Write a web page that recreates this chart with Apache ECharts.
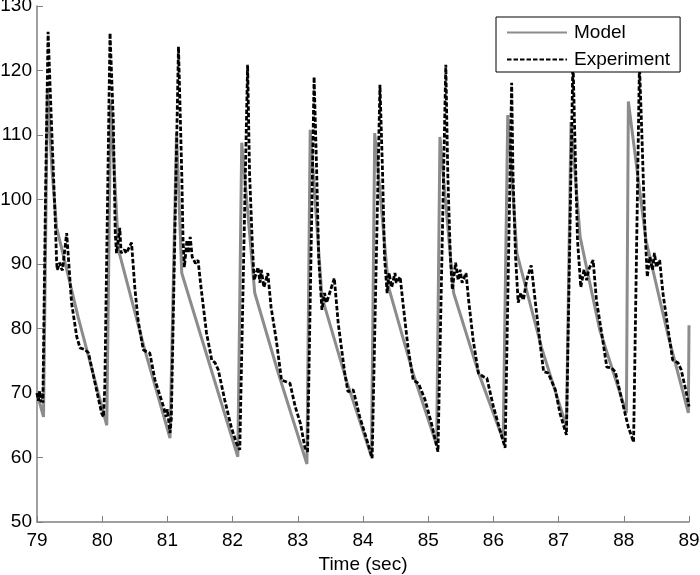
<!DOCTYPE html>
<html>
<head>
<meta charset="utf-8">
<script src="https://cdn.jsdelivr.net/npm/echarts@6/dist/echarts.min.js"></script>
<style>
html,body{margin:0;padding:0;background:#fff;}
#c{width:700px;height:575px;}
</style>
</head>
<body>
<div id="c"></div>
<script>
// Model (gray solid)
var modelT = [79.00,79.10,79.16,79.23,79.30,79.63,80.07,80.13,80.25,80.65,81.04,81.14,81.22,81.63,82.08,82.14,82.34,82.70,83.14,83.19,83.37,83.75,84.13,84.18,84.39,84.76,85.13,85.18,85.39,85.77,86.15,86.22,86.36,86.74,87.12,87.19,87.33,87.63,88.04,88.07,88.34,88.67,88.99,89.00];
var modelV = [70.0,66.3,117.3,104.6,95.7,81.8,65.0,115.0,92.2,76.8,63.0,110.3,88.6,75.0,60.1,108.8,85.5,73.1,59.0,110.8,84.9,71.8,60.1,110.3,86.5,73.3,61.9,109.7,85.5,73.2,62.7,113.1,91.7,77.0,64.8,112.0,94.2,79.8,66.9,115.2,93.7,79.3,66.9,80.5];

// Experiment (black dashed)
var expT = [79.00,79.02,79.04,79.06,79.08,79.09,79.13,79.17,79.22,79.28,79.30,79.31,79.35,79.37,79.39,79.455,79.53,79.61,79.66,79.74,79.79,79.99,80.02,80.04,80.12,
80.17,80.20,80.22,80.27,80.29,80.34,80.37,80.45,80.50,80.55,80.63,80.68,80.73,80.81,80.94,80.98,81.00,81.04,
81.06,81.17,81.22,81.24,81.26,81.30,81.32,81.35,81.38,81.43,81.47,81.52,81.60,81.68,81.73,81.78,81.88,81.98,82.06,82.11,
82.23,82.26,82.30,82.33,82.39,82.42,82.44,82.48,82.54,82.59,82.67,82.75,82.83,82.88,82.96,83.04,83.11,83.15,
83.25,83.29,83.32,83.37,83.41,83.44,83.47,83.56,83.62,83.72,83.77,83.85,83.95,84.06,84.14,
84.26,84.30,84.33,84.37,84.40,84.44,84.49,84.51,84.57,84.62,84.69,84.77,84.85,84.95,85.05,85.15,
85.27,85.30,85.34,85.37,85.42,85.46,85.49,85.52,85.58,85.62,85.69,85.77,85.85,85.90,86.00,86.10,86.18,
86.28,86.30,86.34,86.38,86.42,86.46,86.51,86.58,86.64,86.71,86.77,86.84,86.95,87.02,87.12,
87.22,87.25,87.29,87.34,87.39,87.43,87.46,87.53,87.58,87.66,87.74,87.81,87.87,87.97,88.07,88.15,
88.24,88.28,88.32,88.36,88.40,88.44,88.47,88.50,88.55,88.60,88.68,88.75,88.83,88.88,88.96,89.00];
var expV = [70.0,68.8,70.3,68.6,69.5,68.5,100.0,126.0,112.3,96.8,90.6,89.1,90.2,89.4,89.0,94.8,84.0,78.7,77.0,76.7,76.2,66.9,66.3,71.0,125.8,
112.3,94.8,91.7,95.6,91.7,92.2,91.7,93.3,86.4,81.3,76.7,76.4,76.2,72.0,67.9,66.3,67.5,63.8,
66.0,123.7,104.1,93.7,89.5,93.7,91.7,94.2,91.1,90.1,90.6,86.0,79.3,75.1,74.7,73.6,68.9,64.7,62.2,61.2,
120.9,104.1,93.7,87.5,89.5,87.1,89.1,86.4,88.6,83.3,78.2,72.0,71.7,71.5,67.9,65.3,61.5,60.9,
119.0,104.1,91.1,82.9,85.5,84.0,84.9,87.8,80.8,73.1,70.2,70.5,66.3,62.7,59.9,
117.8,104.1,91.1,85.5,88.6,86.4,88.6,87.1,88.0,83.3,77.1,72.0,71.5,69.0,65.3,60.9,
120.9,104.1,91.1,86.0,90.2,87.5,89.1,87.1,88.6,84.4,78.2,73.1,72.5,72.3,67.9,64.3,61.5,
118.1,104.1,91.1,84.0,85.5,84.4,87.5,89.8,84.4,78.2,73.3,73.1,70.5,66.9,63.5,
122.0,109.2,93.7,86.4,89.1,87.5,89.1,90.6,84.4,79.3,74.0,73.9,73.3,68.9,64.7,62.4,
121.0,109.2,96.4,88.0,91.1,89.1,91.7,89.5,90.6,85.5,79.8,75.1,74.7,73.6,70.0,67.9];

var seriesNames = ['Model', 'Experiment'];
var xTitle = 'Time (sec)';

function zip(a, b) { var r = []; for (var i = 0; i < a.length; i++) r.push([a[i], b[i]]); return r; }

var font = 'Liberation Sans, Arial, Helvetica, sans-serif';
var chart = echarts.init(document.getElementById('c'), null, {renderer: 'canvas'});
chart.setOption({
  animation: false,
  backgroundColor: '#fff',
  grid: {left: 37, right: 11, top: 6, bottom: 53, containLabel: false, outerBoundsMode: 'none'},
  legend: {
    orient: 'vertical',
    left: 496, top: 17,
    padding: [6, 10, 3, 10],
    itemWidth: 60, itemHeight: 20, itemGap: 8,
    backgroundColor: '#fff',
    borderColor: '#000', borderWidth: 1, borderRadius: 0,
    itemStyle: {opacity: 0, borderWidth: 0},
    textStyle: {fontFamily: font, fontSize: 19, color: '#000', padding: [0,0,0,2]},
    data: seriesNames
  },
  xAxis: {
    type: 'value', min: 79, max: 89, interval: 1,
    name: xTitle, nameLocation: 'middle', nameGap: 33,
    nameTextStyle: {fontFamily: font, fontSize: 19, color: '#000'},
    axisLine: {onZero: false, lineStyle: {color: '#808080', width: 1.5}},
    axisTick: {inside: true, length: 6, lineStyle: {color: '#808080', width: 1}},
    axisLabel: {fontFamily: font, fontSize: 19, color: '#000', margin: 9},
    splitLine: {show: false}
  },
  yAxis: {
    type: 'value', min: 50, max: 130, interval: 10,
    axisLine: {show: true, lineStyle: {color: '#808080', width: 1.5}},
    axisTick: {show: true, inside: true, length: 6, lineStyle: {color: '#808080', width: 1}},
    axisLabel: {fontFamily: font, fontSize: 19, color: '#000', margin: 5},
    splitLine: {show: false}
  },
  series: [
    {name: seriesNames[0], type: 'line', data: zip(modelT, modelV), symbol: 'none', showSymbol: false,
     lineStyle: {color: '#8c8c8c', width: 3}, itemStyle: {color: '#8c8c8c'}, z: 2},
    {name: seriesNames[1], type: 'line', data: zip(expT, expV), symbol: 'none', showSymbol: false,
     lineStyle: {color: '#000', width: 2.8, type: [4.5, 2]}, itemStyle: {color: '#000'}, z: 3}
  ]
});
</script>
</body>
</html>
